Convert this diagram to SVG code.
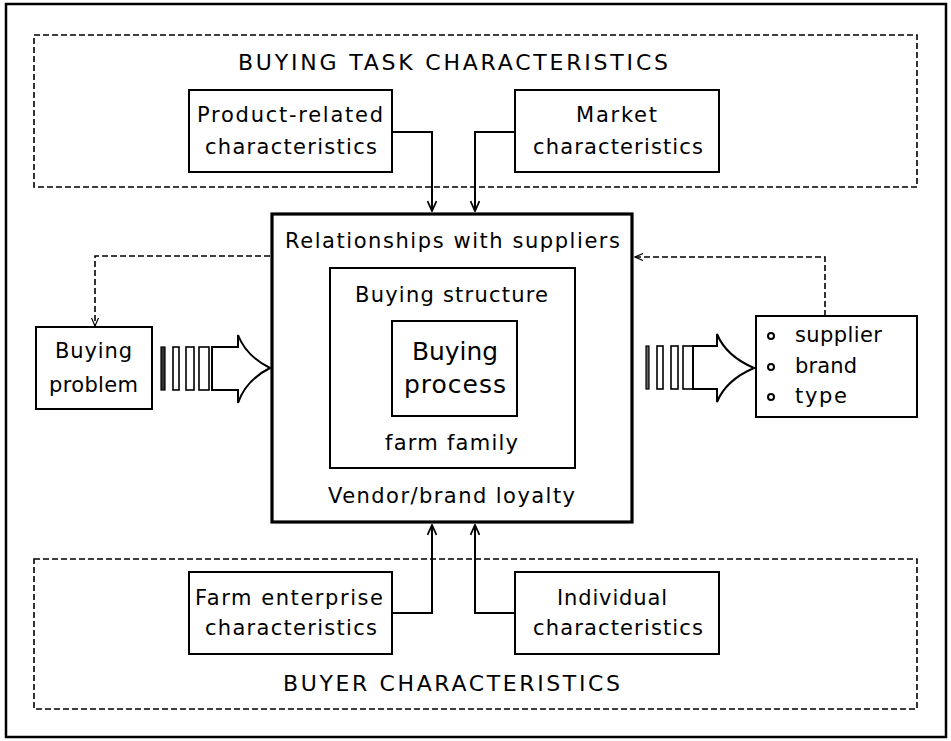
<svg xmlns="http://www.w3.org/2000/svg" width="951" height="741" viewBox="0 0 951 741">
<style>
  .t { font-family: "DejaVu Sans", "Liberation Sans", sans-serif; font-size: 21px; fill: #000; }
  .cap { font-size: 22px; }
  .big { font-size: 25px; }
  .box { fill: #fff; stroke: #000; stroke-width: 2; }
  .dash { fill: none; stroke: #000; stroke-width: 1.6; stroke-dasharray: 6 3; }
  .conn { fill: none; stroke: #000; stroke-width: 2; }
  .dconn { fill: none; stroke: #000; stroke-width: 1.6; stroke-dasharray: 6 3; }
  .bar { fill: #fff; stroke: #000; stroke-width: 1.6; }
  .fat { fill: #fff; stroke: #000; stroke-width: 2; stroke-linejoin: miter; }
</style>
<defs>
  <marker id="ah" viewBox="0 0 12 10" refX="11" refY="5" markerWidth="12" markerHeight="10" markerUnits="userSpaceOnUse" orient="auto">
    <path d="M1,0.5 L11,5 L1,9.5" fill="none" stroke="#000" stroke-width="1.8"/>
  </marker>
  <marker id="ahd" viewBox="0 0 10 8" refX="9" refY="4" markerWidth="10" markerHeight="8" markerUnits="userSpaceOnUse" orient="auto">
    <path d="M1,0.5 L9,4 L1,7.5" fill="none" stroke="#000" stroke-width="1.2"/>
  </marker>
</defs>
<rect x="0" y="0" width="951" height="741" fill="#fff"/>
<rect id="frame" x="6" y="4" width="940" height="733" fill="none" stroke="#000" stroke-width="2.5"/>

<g id="buying-task">
  <rect x="34" y="35" width="883" height="152" class="dash"/>
  <text class="t cap" x="238" y="70" textLength="430" lengthAdjust="spacing">BUYING TASK CHARACTERISTICS</text>
</g>
<g id="buyer">
  <rect x="34" y="559" width="883" height="150" class="dash"/>
  <text class="t cap" x="283" y="691" textLength="337" lengthAdjust="spacing">BUYER CHARACTERISTICS</text>
</g>

<g id="product">
  <rect x="189" y="90" width="203" height="82" class="box"/>
  <text class="t" x="197" y="122" textLength="186" lengthAdjust="spacing">Product-related</text>
  <text class="t" x="205" y="154" textLength="172" lengthAdjust="spacing">characteristics</text>
</g>
<g id="market">
  <rect x="515" y="90" width="204" height="82" class="box"/>
  <text class="t" x="576" y="122" textLength="81" lengthAdjust="spacing">Market</text>
  <text class="t" x="533" y="154" textLength="170" lengthAdjust="spacing">characteristics</text>
</g>
<g id="farm">
  <rect x="189" y="572" width="203" height="82" class="box"/>
  <text class="t" x="195" y="605" textLength="188" lengthAdjust="spacing">Farm enterprise</text>
  <text class="t" x="205" y="635" textLength="172" lengthAdjust="spacing">characteristics</text>
</g>
<g id="individual">
  <rect x="515" y="572" width="204" height="82" class="box"/>
  <text class="t" x="557" y="605" textLength="110" lengthAdjust="spacing">Individual</text>
  <text class="t" x="533" y="635" textLength="170" lengthAdjust="spacing">characteristics</text>
</g>

<g id="relationships">
  <rect x="272" y="214" width="360" height="308" fill="#fff" stroke="#000" stroke-width="3.2"/>
  <text class="t" x="285" y="248" textLength="335" lengthAdjust="spacing">Relationships with suppliers</text>
  <text class="t" x="328" y="503" textLength="247" lengthAdjust="spacing">Vendor/brand loyalty</text>
</g>
<g id="structure">
  <rect x="330" y="268" width="245" height="200" class="box"/>
  <text class="t" x="355" y="302" textLength="193" lengthAdjust="spacing">Buying structure</text>
  <text class="t" x="385" y="450" textLength="133" lengthAdjust="spacing">farm family</text>
</g>
<g id="process">
  <rect x="392" y="321" width="125" height="95" class="box"/>
  <text class="t big" x="412" y="360" textLength="86" lengthAdjust="spacingAndGlyphs">Buying</text>
  <text class="t big" x="404" y="393" textLength="102" lengthAdjust="spacing">process</text>
</g>

<g id="problem">
  <rect x="36" y="327" width="116" height="82" class="box"/>
  <text class="t" x="55" y="358" textLength="77" lengthAdjust="spacing">Buying</text>
  <text class="t" x="49" y="392" textLength="89" lengthAdjust="spacing">problem</text>
</g>
<g id="outcome">
  <rect x="756" y="316" width="161" height="101" class="box"/>
  <circle cx="771" cy="336" r="3" fill="none" stroke="#000" stroke-width="2"/>
  <circle cx="771" cy="367" r="3" fill="none" stroke="#000" stroke-width="2"/>
  <circle cx="771" cy="397" r="3" fill="none" stroke="#000" stroke-width="2"/>
  <text class="t" x="795" y="342" textLength="87" lengthAdjust="spacing">supplier</text>
  <text class="t" x="795" y="373" textLength="62" lengthAdjust="spacing">brand</text>
  <text class="t" x="795" y="403" textLength="52" lengthAdjust="spacing">type</text>
</g>

<g id="connectors">
  <path class="conn" d="M392,132 H432 V211" marker-end="url(#ah)"/>
  <path class="conn" d="M515,132 H475 V211" marker-end="url(#ah)"/>
  <path class="conn" d="M392,613 H432 V525" marker-end="url(#ah)"/>
  <path class="conn" d="M515,613 H475 V525" marker-end="url(#ah)"/>
  <path class="dconn" d="M270,256 H95 V326" marker-end="url(#ahd)"/>
  <path class="dconn" d="M825,316 V257 H635" marker-end="url(#ahd)"/>
  <g id="flow-in">
    <rect x="161" y="347" width="4" height="43" fill="#333" stroke="#000" stroke-width="1.2"/>
    <rect x="173" y="347" width="6" height="43" class="bar"/>
    <rect x="186" y="347" width="8" height="43" class="bar"/>
    <rect x="199" y="347" width="10" height="43" class="bar"/>
    <path class="fat" d="M212,347 H238 V335 Q246,356 270,368 Q246,380 238,403 V390 H212 Z"/>
  </g>
  <g id="flow-out">
    <rect x="646" y="346" width="3" height="43" fill="#666" stroke="#000" stroke-width="1.2"/>
    <rect x="657" y="346" width="6" height="43" class="bar"/>
    <rect x="671" y="346" width="7" height="43" class="bar"/>
    <rect x="683" y="346" width="10" height="43" class="bar"/>
    <path class="fat" d="M693,346 H717 V334 Q726,356 754,368 Q726,380 717,402 V389 H693 Z"/>
  </g>
</g>
</svg>
